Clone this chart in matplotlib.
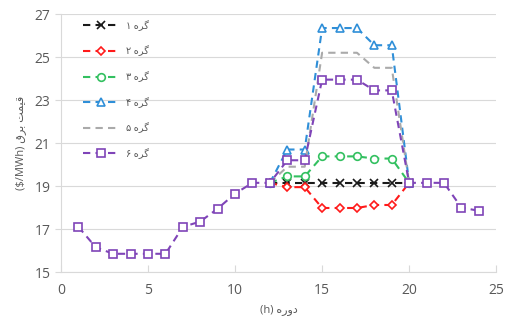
import numpy as np
import matplotlib
matplotlib.use("Agg")
import matplotlib.pyplot as plt

plt.rcParams['font.family'] = ['Open Sans', 'DejaVu Sans']

# hours
hours_all = list(range(1, 25))
hours_peak = list(range(12, 21))

# node 6 covers the whole day
node6 = [17.1, 16.15, 15.85, 15.85, 15.85, 15.85, 17.1, 17.35, 17.95, 18.65, 19.15, 19.15,
         20.2, 20.2, 23.95, 23.95, 23.95, 23.45, 23.45, 19.15, 19.15, 19.15, 18.0, 17.85]

# nodes 1-5 only between hour 12 and 20
node1 = [19.15, 19.15, 19.15, 19.15, 19.15, 19.15, 19.15, 19.15, 19.15]
node2 = [19.15, 18.95, 18.95, 17.98, 17.98, 17.98, 18.12, 18.12, 19.15]
node3 = [19.15, 19.45, 19.45, 20.38, 20.38, 20.38, 20.28, 20.28, 19.15]
node4 = [19.15, 20.7, 20.7, 26.35, 26.35, 26.35, 25.55, 25.55, 19.15]
node5 = [19.15, 19.9, 19.9, 25.2, 25.2, 25.2, 24.5, 24.5, 19.15]

# legend text, pre-shaped for left-to-right rendering ("گره" + digit)
word_node = "\uFEE9\uFEAE\uFB94"
labels = ["\u06F1 " + word_node, "\u06F2 " + word_node, "\u06F3 " + word_node,
          "\u06F4 " + word_node, "\u06F5 " + word_node, "\u06F6 " + word_node]
xlabel = "(h) \uFEE9\uFEAD\uFEED\uFEA9"            # دوره (h)
ylabel = "($/MWh) \uFED5\uFEAE\uFE91 \uFE96\uFEE4\uFBFF\uFED7"  # قیمت برق ($/MWh)

colors = ['#1a1a1a', '#ff1a1a', '#33c060', '#2f8fd8', '#aaaaaa', '#7f44b8']

fig = plt.figure(figsize=(5.06, 3.27), dpi=100)
ax = fig.add_axes([0.1206, 0.168, 0.86, 0.789])

kw = dict(linestyle='--', linewidth=1.5, markersize=5.5, markerfacecolor='white',
          markeredgewidth=1.2, dashes=(3.5, 2.5))
nofill = {k: v for k, v in kw.items() if k != 'markerfacecolor'}
ax.plot(hours_peak, node1, color=colors[0], marker='x', label=labels[0], **nofill)
ax.plot(hours_peak, node2, color=colors[1], marker='D', label=labels[1], **{**kw, 'markersize': 4.2})
ax.plot(hours_peak, node3, color=colors[2], marker='o', label=labels[2], **kw)
ax.plot(hours_peak, node4, color=colors[3], marker='^', label=labels[3], **kw)
ax.plot(hours_peak, node5, color=colors[4], label=labels[4], **nofill)
ax.plot(hours_all, node6, color=colors[5], marker='s', label=labels[5], **{**kw, 'markersize': 6})

ax.set_xlim(0, 25)
ax.set_ylim(15, 27)
ax.set_xticks([0, 5, 10, 15, 20, 25])
ax.set_yticks([15, 17, 19, 21, 23, 25, 27])
ax.yaxis.grid(True, color='#d9d9d9', linewidth=0.8)
ax.set_axisbelow(True)
for s in ['top', 'right']:
    ax.spines[s].set_visible(False)
for s in ['left', 'bottom']:
    ax.spines[s].set_color('#d9d9d9')
ax.tick_params(axis='x', direction='in', length=5, color='#d9d9d9', labelsize=10, labelcolor='#595959', pad=8)
ax.tick_params(axis='y', direction='out', length=4, color='#d9d9d9', labelsize=10, labelcolor='#595959')

ax.set_xlabel(xlabel, fontsize=8, color='#595959', labelpad=4)
ax.set_ylabel(ylabel, fontsize=8, color='#595959', labelpad=6)

leg = ax.legend(loc='upper left', bbox_to_anchor=(0.035, 1.0), frameon=False, fontsize=7,
                labelcolor='#595959', labelspacing=1.5, handlelength=3.6, borderaxespad=0.3)

fig.savefig('out.png', dpi=100)
